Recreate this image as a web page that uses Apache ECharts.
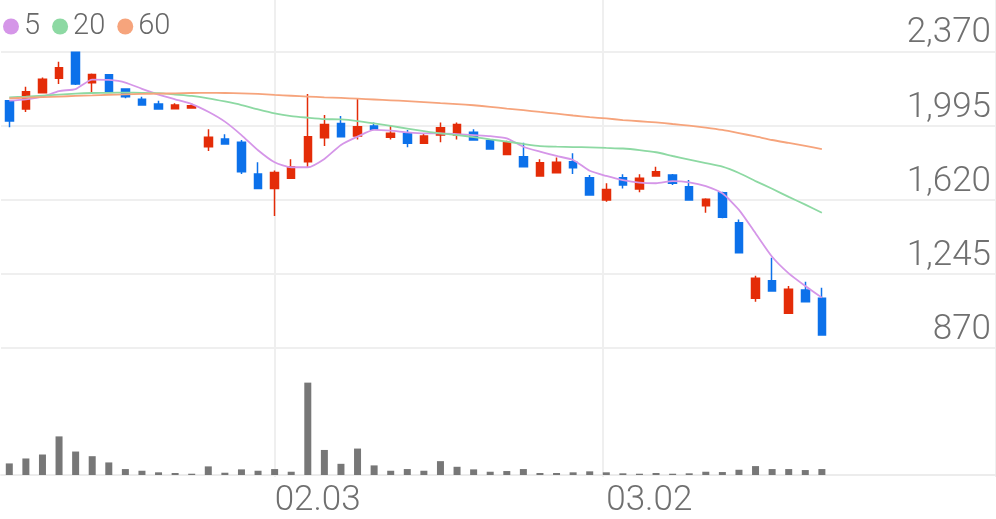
<!DOCTYPE html>
<html><head><meta charset="utf-8">
<script src="https://cdn.jsdelivr.net/npm/echarts@6/dist/echarts.min.js"></script>
<style>html,body{margin:0;padding:0;background:#fff}#c{width:996px;height:519px}</style>
</head><body><div id="c"></div>
<script>
const slotCount = 60;
const tickIndex = [16, 36];
const tickLabels = ['02.03', '03.02'];
const yTicks = [870, 1245, 1620, 1995, 2370];
const openP  = [2122,2080,2162,2235,2367,2213,2253,2181,2129,2105,2081,2085,1889,1928,1911,1751,1678,1729,1813,1935,2007,1943,1994,1937,1957,1906,1948,1948,1962,1921,1850,1838,1741,1757,1813,1732,1619,1732,1675,1741,1746,1686,1590,1656,1504,1122,1211,1046,1164,1122];
const closeP = [2019,2167,2230,2289,2206,2255,2166,2142,2100,2080,2100,2097,1937,1903,1762,1678,1759,1788,1940,2002,1940,1990,1977,1957,1906,1943,1985,2002,1923,1877,1909,1788,1808,1810,1783,1644,1673,1695,1729,1762,1704,1619,1623,1532,1352,1223,1159,1167,1104,936];
const lowP   = [1987,2065,2159,2206,2201,2156,2162,2134,2100,2080,2078,2082,1867,1903,1751,1678,1538,1729,1785,1893,1937,1926,1974,1926,1886,1903,1911,1926,1923,1877,1850,1788,1737,1757,1751,1644,1611,1678,1658,1741,1695,1619,1555,1527,1352,1104,1159,1046,1104,936];
const highP  = [2125,2193,2240,2319,2370,2260,2255,2185,2142,2122,2109,2109,1977,1952,1923,1810,1768,1825,2156,2049,2044,2134,2012,1995,1974,1953,2012,2012,1977,1926,1919,1909,1825,1835,1856,1746,1704,1749,1749,1788,1751,1720,1628,1661,1521,1236,1327,1184,1206,1175];
const ma5  = [2122,2129,2142,2171,2181,2229,2227,2214,2182,2153,2129,2105,2066,2016,1948,1871,1810,1785,1785,1827,1898,1940,1974,1970,1962,1957,1957,1953,1948,1943,1931,1889,1864,1842,1822,1767,1741,1720,1707,1704,1715,1709,1690,1653,1569,1451,1332,1248,1184,1125];
const ma20 = [2139,2143,2148,2153,2158,2161,2162,2163,2162,2160,2153,2146,2134,2118,2100,2078,2058,2044,2036,2029,2027,2019,2007,1994,1981,1968,1956,1948,1938,1926,1915,1903,1892,1889,1887,1886,1883,1880,1872,1861,1842,1824,1806,1788,1756,1715,1676,1635,1596,1555];
const ma60 = [2134,2137,2140,2143,2146,2149,2152,2154,2156,2158,2159,2161,2162,2161,2159,2156,2151,2147,2143,2139,2136,2132,2128,2124,2120,2115,2110,2105,2099,2091,2082,2074,2065,2056,2047,2039,2032,2024,2018,2012,2004,1996,1986,1974,1958,1941,1923,1908,1893,1877];
const volume = [117,167,207,390,237,190,127,60,43,27,20,13,87,23,57,43,60,33,933,253,113,267,97,43,60,43,140,83,57,33,40,60,20,20,27,37,27,17,13,20,13,17,33,30,53,90,60,60,50,60];

const categories = [];
for (let i = 0; i < slotCount; i++) {
  const k = tickIndex.indexOf(i);
  categories.push(k >= 0 ? tickLabels[k] : String(i));
}
const candles = openP.map((o, i) => [o, closeP[i], lowP[i], highP[i]]);

const RED = '#e42c08', BLUE = '#0c71ea';
const GRID_LINE = '#efefef';
const TXT = '#707070';
const FONT = 'Roboto';

const chart = echarts.init(document.getElementById('c'), null, {renderer: 'canvas'});
chart.setOption({
  animation: false,
  backgroundColor: '#fff',
  legend: {
    data: ['5', '20', '60'],
    left: 3, top: 12, padding: 0,
    icon: 'circle', itemWidth: 16, itemHeight: 16, itemGap: 12,
    textStyle: {fontFamily: FONT, fontSize: 29, fontWeight: 300, color: '#686868'}
  },
  grid: [
    {left: 1, right: 0, top: 51.7, height: 296.3},
    {left: 1, right: 0, top: 376, height: 100},
    {left: 12.3, width: 995, top: 0, height: 477}
  ],
  xAxis: [
    {type: 'category', gridIndex: 0, data: categories, boundaryGap: true,
     axisLine: {show: false}, axisTick: {show: false}, axisLabel: {show: false}, splitLine: {show: false}},
    {type: 'category', gridIndex: 1, data: categories, boundaryGap: true,
     axisLine: {show: true, lineStyle: {color: '#ececec', width: 2}},
     axisTick: {show: false}, splitLine: {show: false},
     axisLabel: {show: true, interval: (idx) => tickIndex.includes(idx), align: 'left',
       margin: 9, fontFamily: FONT, fontSize: 35, fontWeight: 300, color: TXT, lineHeight: 35}},
    {type: 'category', gridIndex: 2, data: categories, boundaryGap: true,
     axisLine: {show: false}, axisTick: {show: false}, axisLabel: {show: false},
     splitLine: {show: true, interval: (idx) => tickIndex.includes(idx), lineStyle: {color: GRID_LINE, width: 2}}}
  ],
  yAxis: [
    {type: 'value', gridIndex: 0, position: 'right', min: yTicks[0], max: yTicks[yTicks.length - 1],
     interval: yTicks[1] - yTicks[0],
     axisLine: {show: false}, axisTick: {show: false},
     splitLine: {show: true, lineStyle: {color: GRID_LINE, width: 2}},
     axisLabel: {inside: true, margin: 5, align: 'right', verticalAlign: 'bottom', lineHeight: 36,
       fontFamily: FONT, fontSize: 35, fontWeight: 300, color: TXT,
       formatter: (v) => Math.round(v).toLocaleString('en-US')}},
    {type: 'value', gridIndex: 1, min: 0, max: 1000, show: false},
    {type: 'value', gridIndex: 2, show: false}
  ],
  series: [
    {type: 'candlestick', name: 'price', xAxisIndex: 0, yAxisIndex: 0, data: candles, barWidth: 8,
     itemStyle: {color: RED, color0: BLUE, borderColor: RED, borderColor0: BLUE, borderWidth: 1.5}},
    {type: 'line', name: '5', xAxisIndex: 0, yAxisIndex: 0, data: ma5, symbol: 'none', smooth: 0.2,
     lineStyle: {color: '#d596e8', width: 1.8}, itemStyle: {color: '#d596e8'}},
    {type: 'line', name: '20', xAxisIndex: 0, yAxisIndex: 0, data: ma20, symbol: 'none', smooth: 0.2,
     lineStyle: {color: '#8dd9a3', width: 1.8}, itemStyle: {color: '#8dd9a3'}},
    {type: 'line', name: '60', xAxisIndex: 0, yAxisIndex: 0, data: ma60, symbol: 'none', smooth: 0.2,
     lineStyle: {color: '#f6a47c', width: 1.8}, itemStyle: {color: '#f6a47c'}},
    {type: 'bar', name: 'vol', xAxisIndex: 1, yAxisIndex: 1, data: volume, barWidth: 7,
     itemStyle: {color: '#777777'}}
  ]
});
</script></body></html>
